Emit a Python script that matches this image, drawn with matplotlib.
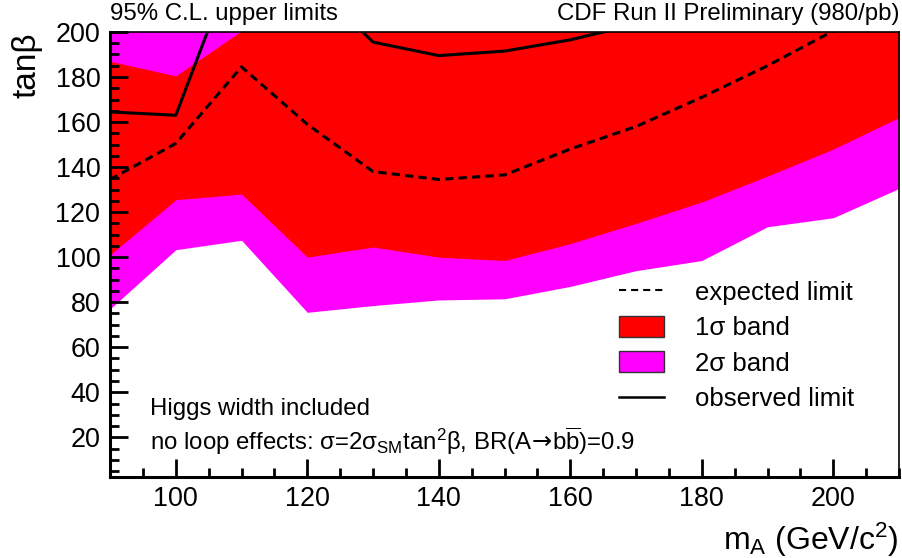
import numpy as np
from matplotlib import pyplot as plt
from matplotlib.lines import Line2D
from matplotlib.patches import Patch
from matplotlib.ticker import MultipleLocator

plt.rcParams['font.family'] = ['Liberation Sans', 'DejaVu Sans']
plt.rcParams['mathtext.fontset'] = 'custom'
plt.rcParams['mathtext.rm'] = 'Liberation Sans'
plt.rcParams['mathtext.it'] = 'Liberation Sans:italic'
plt.rcParams['mathtext.sf'] = 'DejaVu Sans'

# m_A grid points (GeV/c^2)
mass = np.array([90, 100, 110, 120, 130, 140, 150, 160, 170, 180, 190, 200, 210])

# tan(beta) limits (values above 200 are out of frame)
expected = np.array([134.5, 150.5, 184.5, 159, 138, 134.5, 136.5, 148, 158, 171, 185, 200.5, 214])
observed = np.array([164.5, 163, 240, 224, 195.5, 189.5, 191.5, 196.5, 203.5, 210, 220, 230, 240])
sig1_lo = np.array([101, 125.5, 128, 100, 104.5, 100, 98.5, 106, 115, 124.5, 136, 148, 162])
sig1_hi = np.array([187, 180.5, 200.5, 215, 230, 240, 245, 250, 255, 260, 265, 270, 280])
sig2_lo = np.array([77, 103.3, 107.5, 75.5, 78.5, 81, 81.5, 87, 94, 98.5, 113.5, 117.5, 130.5])
sig2_hi = np.array([240, 250, 260, 270, 280, 290, 300, 300, 300, 300, 300, 300, 300])

fig = plt.figure(figsize=(9.02, 5.58), dpi=100)
ax = fig.add_axes([0.122, 0.1457, 0.8747, 0.797])

ax.fill_between(mass, sig2_lo, sig2_hi, color='#ff00ff', lw=0)
ax.fill_between(mass, sig1_lo, sig1_hi, color='#ff0000', lw=0)
ax.plot(mass, expected, color='black', lw=2.2, ls=(0, (2.7, 1.7)))
ax.plot(mass, observed, color='black', lw=2.2)

ax.set_xlim(90, 210)
ax.set_ylim(2.5, 200)

ax.xaxis.set_major_locator(MultipleLocator(20))
ax.xaxis.set_minor_locator(MultipleLocator(5))
ax.yaxis.set_major_locator(MultipleLocator(20))
ax.yaxis.set_minor_locator(MultipleLocator(5))
ax.tick_params(which='both', direction='in', width=2, labelsize=19.4, top=False, right=False)
ax.tick_params(which='major', length=13, pad=7)
ax.tick_params(which='minor', length=6.5)
for s in ['left', 'bottom']:
    ax.spines[s].set_linewidth(2.2)
for s in ['top', 'right']:
    ax.spines[s].set_linewidth(1.2)

ax.set_ylabel('tanβ', fontsize=24)
ax.yaxis.label.set_horizontalalignment('right')
ax.yaxis.label.set_verticalalignment('center')
ax.yaxis.set_label_coords(-0.1056, 1.0)
ax.set_xlabel(r'm$_{\rm A}$ (GeV/c$^{2}$)', fontsize=23, loc='right')
ax.xaxis.set_label_coords(1.0, -0.10)

ax.text(0.0, 1.026, '95% C.L. upper limits', transform=ax.transAxes, fontsize=17.3, va='baseline', ha='left')
ax.text(1.0, 1.026, 'CDF Run II Preliminary (980/pb)', transform=ax.transAxes, fontsize=17.3, va='baseline', ha='right')
ax.text(0.051, 0.139, 'Higgs width included', transform=ax.transAxes, fontsize=17.3, va='baseline')
ax.text(0.051, 0.060, r'no loop effects: σ=2σ$_{\rm SM}$tan$^{2}$β, BR(A$\!\mathsf{\rightarrow}\!$b$\overline{\rm b}$)=0.9',
        transform=ax.transAxes, fontsize=17.3, va='baseline')

handles = [Line2D([], [], color='black', lw=1.5, ls=(0, (3.4, 2.4))),
           Patch(facecolor='#ff0000', edgecolor='#333333', lw=1),
           Patch(facecolor='#ff00ff', edgecolor='#333333', lw=1),
           Line2D([], [], color='black', lw=1.8)]
labels = ['expected limit', '1σ band', '2σ band', 'observed limit']
ax.legend(handles, labels, loc='upper left', bbox_to_anchor=(0.6445, 0.441), frameon=False,
          fontsize=18.5, borderpad=0, borderaxespad=0, handlelength=1.75, handleheight=0.88,
          handletextpad=1.21, labelspacing=0.43)

plt.savefig('out.png', dpi=100)
